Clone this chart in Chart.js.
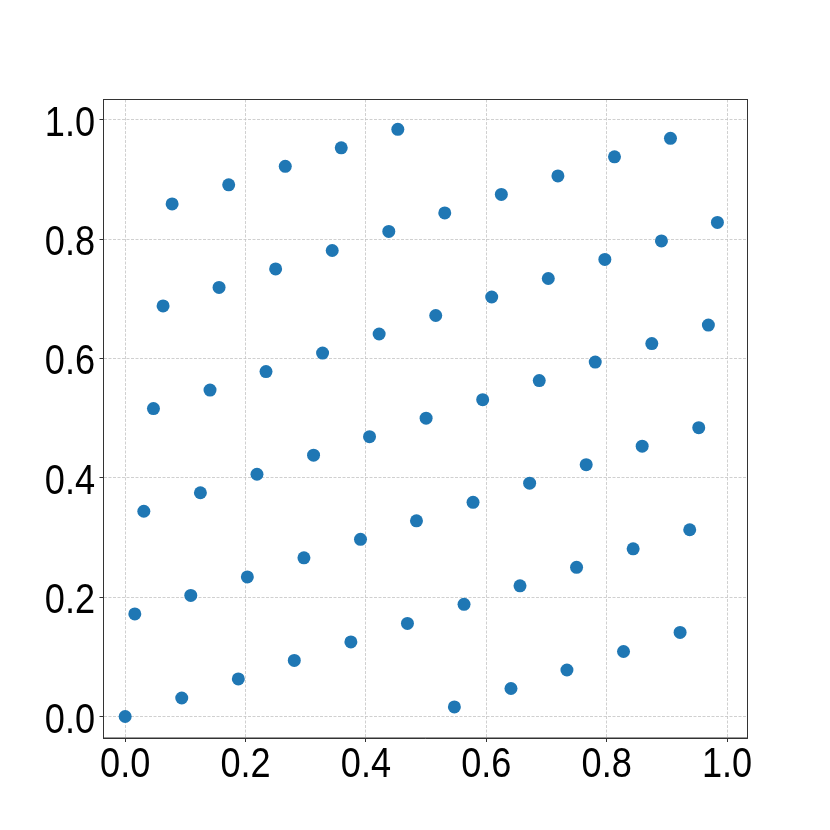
<!DOCTYPE html>
<html>
<head>
<meta charset="utf-8">
<script src="https://cdn.jsdelivr.net/npm/chart.js@4"></script>
<style>
  html, body { margin: 0; padding: 0; background: #fff; }
  #wrap { width: 830px; height: 830px; }
</style>
</head>
<body>
<div id="wrap"><canvas id="latticeChart" width="830" height="830"></canvas></div>
<script>
// point set
const xValues = [
    0.000, 0.016, 0.031, 0.047, 0.063, 0.078, 0.094, 0.109,
    0.125, 0.141, 0.156, 0.172, 0.188, 0.203, 0.219, 0.234,
    0.250, 0.266, 0.281, 0.297, 0.313, 0.328, 0.344, 0.359,
    0.375, 0.391, 0.406, 0.422, 0.438, 0.453, 0.469, 0.484,
    0.500, 0.516, 0.531, 0.547, 0.563, 0.578, 0.594, 0.609,
    0.625, 0.641, 0.656, 0.672, 0.688, 0.703, 0.719, 0.734,
    0.750, 0.766, 0.781, 0.797, 0.813, 0.828, 0.844, 0.859,
    0.875, 0.891, 0.906, 0.922, 0.938, 0.953, 0.969, 0.984
];
const yValues = [
    0.000, 0.172, 0.344, 0.516, 0.688, 0.859, 0.031, 0.203,
    0.375, 0.547, 0.719, 0.891, 0.063, 0.234, 0.406, 0.578,
    0.750, 0.922, 0.094, 0.266, 0.438, 0.609, 0.781, 0.953,
    0.125, 0.297, 0.469, 0.641, 0.813, 0.984, 0.156, 0.328,
    0.500, 0.672, 0.844, 0.016, 0.188, 0.359, 0.531, 0.703,
    0.875, 0.047, 0.219, 0.391, 0.563, 0.734, 0.906, 0.078,
    0.250, 0.422, 0.594, 0.766, 0.938, 0.109, 0.281, 0.453,
    0.625, 0.797, 0.969, 0.141, 0.313, 0.484, 0.656, 0.828
];
const tickValues = [0.0, 0.2, 0.4, 0.6, 0.8, 1.0];

const points = xValues.map((x, i) => ({ x: x, y: yValues[i] }));

// matplotlib-style full frame + narrow tick labels
const framePlugin = {
    id: 'frame',
    afterDraw(chart) {
        const a = chart.chartArea;
        const ctx = chart.ctx;
        ctx.save();
        ctx.strokeStyle = '#333333';
        ctx.lineWidth = 1;
        ctx.strokeRect(a.left, a.top, a.right - a.left, a.bottom - a.top);

        ctx.fillStyle = '#000000';
        ctx.font = "42px 'Liberation Sans', sans-serif";
        const squeeze = 0.86;
        tickValues.forEach(v => {
            const label = v.toFixed(1);
            // x axis
            ctx.save();
            ctx.translate(chart.scales.x.getPixelForValue(v), a.bottom + 39);
            ctx.scale(squeeze, 1);
            ctx.textAlign = 'center';
            ctx.textBaseline = 'alphabetic';
            ctx.fillText(label, 0, 0);
            ctx.restore();
            // y axis
            ctx.save();
            ctx.translate(a.left - 8.5, chart.scales.y.getPixelForValue(v) + 16);
            ctx.scale(squeeze, 1);
            ctx.textAlign = 'right';
            ctx.textBaseline = 'alphabetic';
            ctx.fillText(label, 0, 0);
            ctx.restore();
        });
        ctx.restore();
    }
};

function axisOptions(width, height) {
    return {
        type: 'linear',
        min: -0.036,
        max: 1.034,
        afterBuildTicks: s => { s.ticks = tickValues.map(v => ({ value: v })); },
        afterFit: s => {
            if (width !== undefined) s.width = width;
            if (height !== undefined) s.height = height;
        },
        grid: {
            color: '#c4c4c4',
            lineWidth: 0.8,
            tickLength: 4,
            tickColor: '#333333',
            tickWidth: 1
        },
        border: { display: true, color: '#333333', width: 1, dash: [3, 1.5] },
        ticks: { display: false }
    };
}

new Chart(document.getElementById('latticeChart').getContext('2d'), {
    type: 'scatter',
    data: {
        datasets: [{
            data: points,
            backgroundColor: '#1f77b4',
            borderColor: '#1f77b4',
            pointRadius: 6.5,
            pointHoverRadius: 6.5,
            borderWidth: 0
        }]
    },
    options: {
        responsive: false,
        animation: false,
        devicePixelRatio: 1,
        layout: { padding: { left: 0, top: 99.5, right: 82.5, bottom: 0 } },
        plugins: { legend: { display: false }, tooltip: { enabled: false } },
        scales: {
            x: axisOptions(undefined, 92),
            y: axisOptions(103.5, undefined)
        }
    },
    plugins: [framePlugin]
});
</script>
</body>
</html>
